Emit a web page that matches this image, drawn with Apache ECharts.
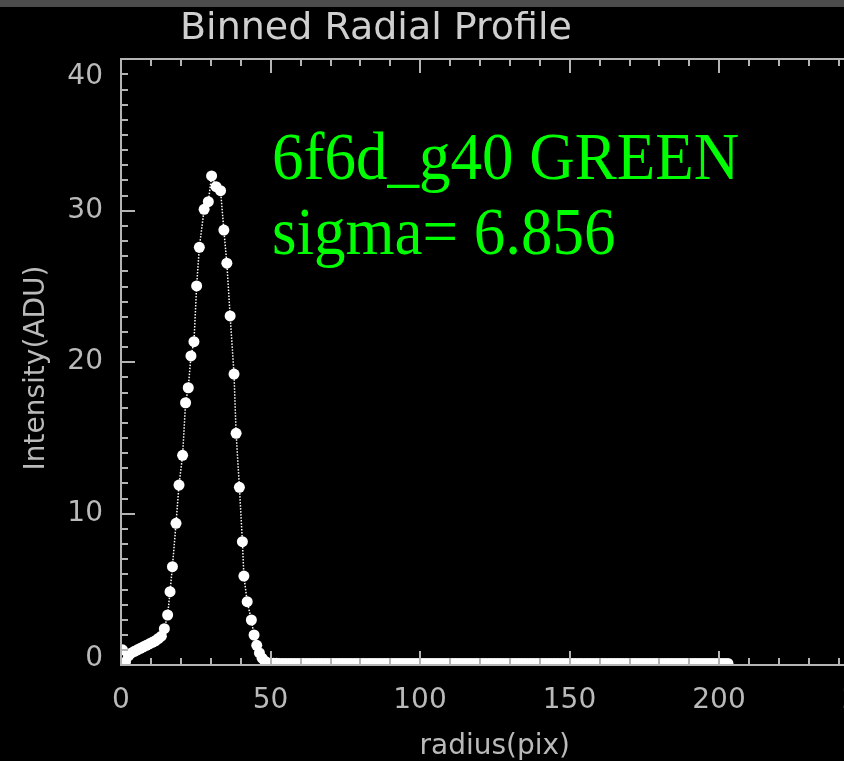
<!DOCTYPE html>
<html>
<head>
<meta charset="utf-8">
<script src="https://cdn.jsdelivr.net/npm/echarts@6/dist/echarts.min.js"></script>
<style>
  html, body { margin: 0; padding: 0; background: #000; }
  #chart { width: 844px; height: 761px; }
</style>
</head>
<body>
<div id="chart"></div>
<script>
// Binned radial profile: radius bins (pix) and mean intensity (ADU)
const radius = [
  0.5, 1.5, 2.5, 3.5, 4.5, 5.5, 6.5, 7.5, 8.5, 9.5, 10.5, 11.5, 12.5, 13.5, 14.5,
  15.6, 16.4, 17.2, 18.4, 19.4, 20.6, 21.6, 22.5, 23.4, 24.4, 25.3, 26.2, 27.8, 29.2, 30.3,
  31.8, 33.3, 34.4, 35.4, 36.5, 37.8, 38.5, 39.6, 40.6, 41.1, 42.2, 43.6, 44.5,
  45.4, 46.3, 47.2, 48.1, 49.0,
  50, 51, 52, 53, 54, 55, 56, 57, 58, 59, 60, 61, 62, 63, 64, 65, 66, 67, 68, 69,
  70, 71, 72, 73, 74, 75, 76, 77, 78, 79, 80, 81, 82, 83, 84, 85, 86, 87, 88, 89,
  90, 91, 92, 93, 94, 95, 96, 97, 98, 99, 100, 101, 102, 103, 104, 105, 106, 107, 108, 109,
  110, 111, 112, 113, 114, 115, 116, 117, 118, 119, 120, 121, 122, 123, 124, 125, 126, 127, 128, 129,
  130, 131, 132, 133, 134, 135, 136, 137, 138, 139, 140, 141, 142, 143, 144, 145, 146, 147, 148, 149,
  150, 151, 152, 153, 154, 155, 156, 157, 158, 159, 160, 161, 162, 163, 164, 165, 166, 167, 168, 169,
  170, 171, 172, 173, 174, 175, 176, 177, 178, 179, 180, 181, 182, 183, 184, 185, 186, 187, 188, 189,
  190, 191, 192, 193, 194, 195, 196, 197, 198, 199, 200, 201, 202, 203
];
const intensity = [
  1.0, 0.2, 0.6, 0.8, 0.9, 1.0, 1.1, 1.2, 1.3, 1.4, 1.5, 1.6, 1.75, 1.9, 2.4,
  3.3, 4.84, 6.49, 9.35, 11.88, 13.84, 17.31, 18.3, 20.4, 21.34, 25.02, 27.57, 30.08, 30.58, 32.28,
  31.57, 31.31, 28.71, 26.52, 23.04, 19.2, 15.29, 11.73, 8.14, 5.87, 4.18, 2.97, 1.98,
  1.3, 0.8, 0.45, 0.25, 0.15,
  0.12, 0.11, 0.11, 0.1, 0.1, 0.1, 0.1, 0.1, 0.1, 0.1, 0.1, 0.1, 0.1, 0.1, 0.1, 0.1, 0.1, 0.1, 0.1, 0.1,
  0.1, 0.1, 0.1, 0.1, 0.1, 0.1, 0.1, 0.1, 0.1, 0.1, 0.1, 0.1, 0.1, 0.1, 0.1, 0.1, 0.1, 0.1, 0.1, 0.1,
  0.1, 0.1, 0.1, 0.1, 0.1, 0.1, 0.1, 0.1, 0.1, 0.1, 0.1, 0.1, 0.1, 0.1, 0.1, 0.1, 0.1, 0.1, 0.1, 0.1,
  0.1, 0.1, 0.1, 0.1, 0.1, 0.1, 0.1, 0.1, 0.1, 0.1, 0.1, 0.1, 0.1, 0.1, 0.1, 0.1, 0.1, 0.1, 0.1, 0.1,
  0.1, 0.1, 0.1, 0.1, 0.1, 0.1, 0.1, 0.1, 0.1, 0.1, 0.1, 0.1, 0.1, 0.1, 0.1, 0.1, 0.1, 0.1, 0.1, 0.1,
  0.1, 0.1, 0.1, 0.1, 0.1, 0.1, 0.1, 0.1, 0.1, 0.1, 0.1, 0.1, 0.1, 0.1, 0.1, 0.1, 0.1, 0.1, 0.1, 0.1,
  0.1, 0.1, 0.1, 0.1, 0.1, 0.1, 0.1, 0.1, 0.1, 0.1, 0.1, 0.1, 0.1, 0.1, 0.1, 0.1, 0.1, 0.1, 0.1, 0.1,
  0.1, 0.1, 0.1, 0.1, 0.1, 0.1, 0.1, 0.1, 0.1, 0.1, 0.1, 0.1, 0.1, 0.1
];
const xTicks = [0, 50, 100, 150, 200, 250];
const yTicks = [0, 10, 20, 30, 40];
const titleText = 'Binned Radial Profile';
const noteLines = ['6f6d_g40 GREEN', 'sigma= 6.856'];

const AX = '#b4b4b4';
const LABEL = '#bababa';
const FONT = 'DejaVu Sans';

const chart = echarts.init(document.getElementById('chart'), null, { renderer: 'canvas' });

const gridLeft = 121, gridTop = 59, gridW = 747.5, gridH = 606;

const commonTick = { show: true, inside: true, length: 14, lineStyle: { color: AX, width: 2 } };
const commonMinor = { show: true, splitNumber: 5, length: 7, lineStyle: { color: AX, width: 2 } };

chart.setOption({
  backgroundColor: '#000',
  animation: false,
  grid: {
    left: gridLeft, top: gridTop, width: gridW, height: gridH,
    containLabel: false, outerBoundsMode: 'none'
  },
  xAxis: [{
    type: 'value', position: 'bottom', min: xTicks[0], max: xTicks[xTicks.length - 1], interval: 50,
    z: 10,
    axisLine: { show: true, onZero: false, lineStyle: { color: AX, width: 2 } },
    axisTick: commonTick,
    minorTick: commonMinor,
    splitLine: { show: false },
    axisLabel: { color: LABEL, fontFamily: FONT, fontSize: 28, margin: 22 },
    name: 'radius(pix)', nameLocation: 'middle', nameGap: 68,
    nameTextStyle: { color: LABEL, fontFamily: FONT, fontSize: 28 }
  }, {
    type: 'value', position: 'top', min: xTicks[0], max: xTicks[xTicks.length - 1], interval: 50,
    z: 10,
    axisLine: { show: true, onZero: false, lineStyle: { color: AX, width: 2 } },
    axisTick: commonTick,
    minorTick: commonMinor,
    splitLine: { show: false },
    axisLabel: { show: false }
  }],
  yAxis: {
    type: 'value', min: yTicks[0], max: yTicks[yTicks.length - 1], interval: 10,
    z: 10,
    axisLine: { show: true, onZero: false, lineStyle: { color: AX, width: 2 } },
    axisTick: commonTick,
    minorTick: { show: true, splitNumber: 10, length: 7, lineStyle: { color: AX, width: 2 } },
    splitLine: { show: false },
    axisLabel: {
      color: LABEL, fontFamily: FONT, fontSize: 28, margin: 18,
      formatter: v => v === 40 ? '{hi|40}' : (v === 0 ? '{lo|0}' : String(v)),
      rich: {
        hi: { color: LABEL, fontFamily: FONT, fontSize: 28, padding: [36, 0, 0, 0] },
        lo: { color: LABEL, fontFamily: FONT, fontSize: 28, padding: [0, 0, 12, 0] }
      }
    },
    name: 'Intensity(ADU)', nameLocation: 'middle', nameGap: 70, nameRotate: 90,
    nameTextStyle: { color: LABEL, fontFamily: FONT, fontSize: 28, padding: [0, 12, 0, 0] }
  },
  series: [{
    type: 'line',
    data: radius.map((r, i) => [r, intensity[i]]),
    symbol: 'circle',
    symbolSize: 11,
    showAllSymbol: true,
    itemStyle: { color: '#ffffff' },
    lineStyle: { color: '#ffffff', width: 1.5, type: 'dotted' },
    z: 2
  }],
  graphic: [
    // plot-area clipping of the dot marks that spill past the frame
    { type: 'rect', z: 5, shape: { x: gridLeft - 30, y: gridTop + gridH + 1, width: 800, height: 10 }, style: { fill: '#000' } },
    { type: 'rect', z: 5, shape: { x: gridLeft - 20, y: gridTop + gridH - 30, width: 19, height: 40 }, style: { fill: '#000' } },
    // window border strip along the top
    { type: 'rect', z: 20, shape: { x: 0, y: 0, width: 844, height: 7 }, style: { fill: '#4c4c4c' } },
    { type: 'text', z: 20, x: 376, y: 29,
      style: { text: titleText, fill: '#cfcfcf', font: '38px "DejaVu Sans"', textAlign: 'center', textVerticalAlign: 'middle' } },
    { type: 'text', z: 20, x: 272, y: 161, scaleY: 1.06,
      style: { text: noteLines[0], fill: '#00ff00', font: '63px "Liberation Serif"', textAlign: 'left', textVerticalAlign: 'middle' } },
    { type: 'text', z: 20, x: 272, y: 236, scaleY: 1.06,
      style: { text: noteLines[1], fill: '#00ff00', font: '63px "Liberation Serif"', textAlign: 'left', textVerticalAlign: 'middle' } }
  ]
});
</script>
</body>
</html>
